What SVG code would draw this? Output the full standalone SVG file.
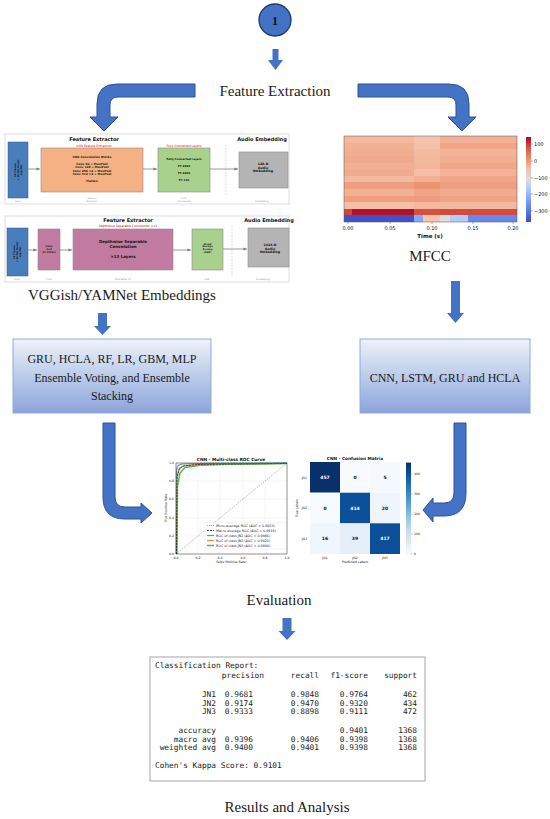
<svg xmlns="http://www.w3.org/2000/svg" width="550" height="819" viewBox="0 0 550 819">
<defs>
<linearGradient id="boxGrad" x1="0" y1="0" x2="0" y2="1"><stop offset="0" stop-color="#eef2fa"/><stop offset="1" stop-color="#8aa5da"/></linearGradient>
<linearGradient id="cw" x1="0" y1="0" x2="0" y2="1">
<stop offset="0" stop-color="#b40426"/><stop offset="0.125" stop-color="#d65244"/><stop offset="0.25" stop-color="#ef8a6c"/><stop offset="0.375" stop-color="#f5bfa5"/><stop offset="0.5" stop-color="#dddcdc"/><stop offset="0.625" stop-color="#a9c6fd"/><stop offset="0.75" stop-color="#7b9ff9"/><stop offset="0.875" stop-color="#5a78e4"/><stop offset="1" stop-color="#3b4cc0"/>
</linearGradient>
<linearGradient id="bl" x1="0" y1="0" x2="0" y2="1">
<stop offset="0" stop-color="#08306b"/><stop offset="0.125" stop-color="#08519c"/><stop offset="0.25" stop-color="#2171b5"/><stop offset="0.375" stop-color="#4292c6"/><stop offset="0.5" stop-color="#6baed6"/><stop offset="0.625" stop-color="#9ecae1"/><stop offset="0.75" stop-color="#c6dbef"/><stop offset="0.875" stop-color="#deebf7"/><stop offset="1" stop-color="#f7fbff"/>
</linearGradient>
<marker id="ga" markerWidth="4" markerHeight="4" refX="3.6" refY="2" orient="auto" markerUnits="userSpaceOnUse"><path d="M0,0.4 L3.6,2 L0,3.6 Z" fill="#808080"/></marker>
</defs>
<style>
.lbl{font-family:"Liberation Serif","Times New Roman",serif;fill:#1a1a1a;text-anchor:middle}
.big{font-size:15px}
.bx{font-size:12px}
.arr{fill:#4472C4;stroke:#2F528F;stroke-width:1}
.sarr{fill:#4472C4}
.s{font-family:"DejaVu Sans",sans-serif;text-anchor:middle;fill:#111}
.b{font-weight:bold}
.red{fill:#c00000}
.gl{fill:#999}
.frame{fill:#fff;stroke:#d4d4d4;stroke-width:0.8}
.blk{stroke:#8c8c8c;stroke-width:0.6}
.conn{stroke:#808080;stroke-width:0.8;fill:none;marker-end:url(#ga)}
.dash{stroke:#bbb;stroke-width:0.6;stroke-dasharray:1.5 1.5}
.grid{stroke:#e6e6e6;stroke-width:0.4}
.mono{font-family:"DejaVu Sans Mono","Liberation Mono",monospace;font-size:7.8px;fill:#222}
.e{text-anchor:end}
</style>
<rect width="550" height="819" fill="#fff"/>

<g id="start">
<circle cx="275" cy="20" r="16" fill="#4472C4" stroke="#1f3864" stroke-width="1.3"/>
<text x="275" y="24.5" font-family="Liberation Serif,serif" font-weight="bold" font-size="12" text-anchor="middle" fill="#111">1</text>
</g>

<g id="connectors">
<path class="sarr" d="M272.5,49 H278.5 V60 H283 L275.5,70 L268,60 H272.5 Z"/>
<path class="arr" d="M195,84 H117 Q97,84 97,104 V117 H90 L104,131 L118,117 H110 V105 Q110,97 118,97 H195 Z"/>
<path class="arr" d="M358,84 H449 Q469,84 469,104 V117 H476 L462,131 L448,117 H456 V105 Q456,97 448,97 H358 Z"/>
<path class="sarr" d="M98,313 H107 V326 H111 L102.5,335 L94,326 H98 Z"/>
<path class="sarr" d="M451,281 H460 V313 H464 L455.5,323 L447,313 H451 Z"/>
<path class="arr" d="M103,423 H115 V497 Q115,507 125,507 H141 V503 L152,513 L141,523 V519 H125 Q103,519 103,497 Z"/>
<path class="arr" d="M466,423 H454 V493 Q454,503 444,503 H433 V498 L423,510 L433,522 V516 H444 Q466,516 466,493 Z"/>
<path class="sarr" d="M282.5,618 H291.5 V631 H295.5 L287,640 L278.5,631 H282.5 Z"/>
</g>

<g id="feature-extraction"><text class="lbl big" x="275" y="96">Feature Extraction</text></g>

<g id="vggish">
<rect class="frame" x="5" y="134" width="284" height="70"/>
<text class="s b" x="94" y="141" font-size="5">Feature Extractor</text>
<text class="s b" x="262" y="141" font-size="5">Audio Embedding</text>
<text class="s red" x="94" y="147" font-size="3">VGG Feature Extraction</text>
<text class="s red" x="184" y="147" font-size="3">Fully Connected Layers</text>
<rect x="8" y="142" width="20" height="56" fill="#4a7ebb" stroke="#2f5597" stroke-width="0.5"/>
<g font-family="DejaVu Sans,sans-serif" font-size="2.4" font-weight="bold" fill="#111" text-anchor="middle">
<text transform="translate(15.5,170) rotate(-90)">96 Frames</text>
<text transform="translate(18.5,170) rotate(-90)">× 64 Mel Bands</text>
<text transform="translate(21.5,170) rotate(-90)">Log-Mel</text>
</g>
<line class="conn" x1="28" y1="169" x2="40" y2="169"/>
<rect class="blk" x="41" y="148" width="102" height="44" fill="#f4b183"/>
<g class="s b" font-size="2.9">
<text x="92" y="158">VGG Convolution Blocks</text>
<text x="92" y="164.5">Conv 64 + MaxPool</text>
<text x="92" y="168">Conv 128 + MaxPool</text>
<text x="92" y="171.5">Conv 256 ×2 + MaxPool</text>
<text x="92" y="175">Conv 512 ×2 + MaxPool</text>
<text x="92" y="182">Flatten</text>
</g>
<line class="conn" x1="143" y1="169" x2="157" y2="169"/>
<rect class="blk" x="158" y="148" width="52" height="44" fill="#a9d18e"/>
<g class="s b" font-size="2.7">
<text x="184" y="159.5">Fully Connected Layers</text>
<text x="184" y="166.5">FC 4096</text>
<text x="184" y="173.5">FC 4096</text>
<text x="184" y="181">FC 128</text>
</g>
<line class="dash" x1="226" y1="145" x2="226" y2="196"/>
<line class="conn" x1="210" y1="169" x2="238" y2="169"/>
<rect class="blk" x="239" y="152" width="49" height="36" fill="#b4b4b4"/>
<g class="s b" font-size="3.2">
<text x="263" y="165">128-D</text>
<text x="263" y="168.5">Audio</text>
<text x="263" y="172">Embedding</text>
</g>
<g class="s gl" font-size="2.4">
<text x="18" y="201.5">Input</text>
<text x="92" y="198.5">Feature</text><text x="92" y="201.5">Extractor</text>
<text x="184" y="198.5">Fully</text><text x="184" y="201.5">Connected</text>
<text x="262" y="201.5">Embedding</text>
</g>
</g>

<g id="yamnet">
<rect class="frame" x="5" y="216" width="284" height="66"/>
<text class="s b" x="128" y="222" font-size="5">Feature Extractor</text>
<text class="s b" x="269" y="222" font-size="5">Audio Embedding</text>
<text class="s red" x="128" y="227" font-size="3">Depthwise Separable Convolution ×13</text>
<rect x="7" y="228" width="21" height="48" fill="#4a7ebb" stroke="#2f5597" stroke-width="0.5"/>
<g font-family="DejaVu Sans,sans-serif" font-size="2.4" font-weight="bold" fill="#111" text-anchor="middle">
<text transform="translate(14.5,252) rotate(-90)">96 Frames</text>
<text transform="translate(17.5,252) rotate(-90)">× 64 Mel Bands</text>
<text transform="translate(20.5,252) rotate(-90)">Log-Mel</text>
</g>
<line class="conn" x1="28" y1="250" x2="37" y2="250"/>
<rect class="blk" x="38" y="229" width="22" height="41" fill="#c27ba0"/>
<g class="s b" font-size="2.5">
<text x="49" y="246.5">Conv</text><text x="49" y="249.5">3×3</text><text x="49" y="252.5">32 Filters</text>
</g>
<line class="conn" x1="60" y1="250" x2="72" y2="250"/>
<rect class="blk" x="73" y="229" width="100" height="41" fill="#c27ba0"/>
<g class="s b" font-size="4">
<text x="123" y="243">Depthwise Separable</text>
<text x="123" y="248">Convolution</text>
<text x="123" y="258">×13 Layers</text>
</g>
<line class="conn" x1="173" y1="250" x2="191" y2="250"/>
<rect class="blk" x="192" y="229" width="31" height="41" fill="#a9d18e"/>
<g class="s b" font-size="2.3">
<text x="207.5" y="244.5">Global</text><text x="207.5" y="247.2">Average</text><text x="207.5" y="249.9">Pooling</text><text x="207.5" y="252.6">(GAP)</text>
</g>
<line class="dash" x1="232" y1="226" x2="232" y2="277"/>
<line class="conn" x1="223" y1="249" x2="247" y2="249"/>
<rect class="blk" x="248" y="228" width="41" height="39" fill="#b4b4b4"/>
<g class="s b" font-size="3.2">
<text x="270" y="246">1024-D</text><text x="270" y="249.5">Audio</text><text x="270" y="253">Embedding</text>
</g>
<g class="s gl" font-size="2.4">
<text x="17" y="279.5">Input</text><text x="49" y="279.5">Conv</text><text x="123" y="279.5">MobileNet V1</text><text x="207" y="279.5">GAP</text><text x="263" y="279.5">Embedding</text>
</g>
</g>

<g id="embeddings-label"><text class="lbl big" x="122" y="300">VGGish/YAMNet Embeddings</text></g>

<g id="mfcc">
<g shape-rendering="crispEdges">
<rect x="344" y="136" width="70" height="6.7" fill="#f4b99e"/><rect x="414" y="136" width="26" height="6.7" fill="#f5c4ad"/><rect x="440" y="136" width="77" height="6.7" fill="#f2b196"/>
<rect x="344" y="142.6" width="70" height="6.7" fill="#f3b194"/><rect x="414" y="142.6" width="26" height="6.7" fill="#f5c0a7"/><rect x="440" y="142.6" width="77" height="6.7" fill="#f0a689"/>
<rect x="344" y="149.2" width="70" height="6.7" fill="#f2ae91"/><rect x="414" y="149.2" width="26" height="6.7" fill="#f4bba1"/><rect x="440" y="149.2" width="77" height="6.7" fill="#f3b397"/>
<rect x="344" y="155.8" width="70" height="6.7" fill="#f1aa8d"/><rect x="414" y="155.8" width="26" height="6.7" fill="#f4b89e"/><rect x="440" y="155.8" width="77" height="6.7" fill="#f2ae91"/>
<rect x="344" y="162.5" width="70" height="6.7" fill="#f2af93"/><rect x="414" y="162.5" width="26" height="6.7" fill="#f3b69b"/><rect x="440" y="162.5" width="77" height="6.7" fill="#f0a68a"/>
<rect x="344" y="169.1" width="70" height="6.7" fill="#f1ab8f"/><rect x="414" y="169.1" width="26" height="6.7" fill="#f5bea5"/><rect x="440" y="169.1" width="77" height="6.7" fill="#f3b398"/>
<rect x="344" y="175.7" width="70" height="6.7" fill="#f4b99f"/><rect x="414" y="175.7" width="26" height="6.7" fill="#f2b093"/><rect x="440" y="175.7" width="77" height="6.7" fill="#f0a588"/>
<rect x="344" y="182.3" width="70" height="6.7" fill="#ef9f81"/><rect x="414" y="182.3" width="26" height="6.7" fill="#ec9374"/><rect x="440" y="182.3" width="77" height="6.7" fill="#ef9e81"/>
<rect x="344" y="188.9" width="70" height="6.7" fill="#f2b095"/><rect x="414" y="188.9" width="26" height="6.7" fill="#f0a487"/><rect x="440" y="188.9" width="77" height="6.7" fill="#f1ab8e"/>
<rect x="344" y="195.5" width="70" height="6.7" fill="#ef9e80"/><rect x="414" y="195.5" width="26" height="6.7" fill="#ee9a7c"/><rect x="440" y="195.5" width="77" height="6.7" fill="#f0a385"/>
<rect x="344" y="202.2" width="70" height="6.7" fill="#f4c1a8"/><rect x="414" y="202.2" width="26" height="6.7" fill="#f3b89d"/><rect x="440" y="202.2" width="77" height="6.7" fill="#f3b99f"/>
<rect x="344" y="208.8" width="8" height="6.7" fill="#cf453c"/><rect x="352" y="208.8" width="62" height="6.7" fill="#b5102a"/><rect x="414" y="208.8" width="26" height="6.7" fill="#d55042"/><rect x="440" y="208.8" width="77" height="6.7" fill="#d24b40"/>
<rect x="344" y="215.4" width="70" height="6.6" fill="#3f53c6"/><rect x="414" y="215.4" width="9" height="6.6" fill="#86a9fc"/><rect x="423" y="215.4" width="17" height="6.6" fill="#f4c4ab"/><rect x="440" y="215.4" width="10" height="6.6" fill="#dcdddd"/><rect x="450" y="215.4" width="18" height="6.6" fill="#b0cbfc"/><rect x="468" y="215.4" width="49" height="6.6" fill="#6788ee"/>
</g>
<rect x="344" y="136" width="173" height="86" fill="none" stroke="#555" stroke-width="0.5"/>
<g stroke="#333" stroke-width="0.4">
<line x1="348" y1="222" x2="348" y2="224"/><line x1="390" y1="222" x2="390" y2="224"/><line x1="432" y1="222" x2="432" y2="224"/><line x1="473" y1="222" x2="473" y2="224"/><line x1="513" y1="222" x2="513" y2="224"/>
</g>
<g class="s" font-size="5">
<text x="348" y="230">0.00</text><text x="390" y="230">0.05</text><text x="432" y="230">0.10</text><text x="473" y="230">0.15</text><text x="513" y="230">0.20</text>
</g>
<text class="s b" x="430" y="238" font-size="5.5">Time (s)</text>
<rect x="526" y="137" width="5" height="85" fill="url(#cw)"/>
<g stroke="#333" stroke-width="0.4">
<line x1="531" y1="144" x2="533" y2="144"/><line x1="531" y1="161" x2="533" y2="161"/><line x1="531" y1="178" x2="533" y2="178"/><line x1="531" y1="194" x2="533" y2="194"/><line x1="531" y1="211" x2="533" y2="211"/>
</g>
<g font-family="DejaVu Sans,sans-serif" font-size="5" fill="#111">
<text x="534" y="145.8">100</text><text x="534" y="162.8">0</text><text x="534" y="179.8">−100</text><text x="534" y="195.8">−200</text><text x="534" y="212.8">−300</text>
</g>
<text class="lbl big" x="430" y="261">MFCC</text>
</g>

<g id="models-left">
<rect x="13" y="339" width="198" height="74" fill="url(#boxGrad)" stroke="#8eaadb" stroke-width="1"/>
<text class="lbl bx" x="112" y="363">GRU, HCLA, RF, LR, GBM, MLP</text>
<text class="lbl bx" x="112" y="382">Ensemble Voting, and Ensemble</text>
<text class="lbl bx" x="112" y="400">Stacking</text>
</g>

<g id="models-right">
<rect x="360" y="339" width="170" height="74" fill="url(#boxGrad)" stroke="#8eaadb" stroke-width="1"/>
<text class="lbl bx" x="445" y="382">CNN, LSTM, GRU and HCLA</text>
</g>

<g id="roc">
<rect x="176" y="463" width="111" height="91" fill="#fff"/>
<g class="grid">
<line x1="198" y1="463" x2="198" y2="554"/><line x1="220" y1="463" x2="220" y2="554"/><line x1="243" y1="463" x2="243" y2="554"/><line x1="265" y1="463" x2="265" y2="554"/>
<line x1="176" y1="481" x2="287" y2="481"/><line x1="176" y1="499" x2="287" y2="499"/><line x1="176" y1="518" x2="287" y2="518"/><line x1="176" y1="536" x2="287" y2="536"/>
</g>
<line x1="176" y1="554" x2="287" y2="463" stroke="#777" stroke-width="0.5" stroke-dasharray="1.5 1"/>
<path d="M176.3,554 L176.5,470 L178,465.5 L182,464 L200,463.5 L287,463.2" fill="none" stroke="#3d9be0" stroke-width="1.2"/>
<path d="M176.5,554 L177,478 L179,469 L183,466 L195,464.6 L287,463.5" fill="none" stroke="#f5883a" stroke-width="1.2"/>
<path d="M177,554 L177.5,486 L180,473 L185,467.5 L200,465.3 L230,464.2 L287,463.5" fill="none" stroke="#4cbf4c" stroke-width="1.5"/>
<path d="M176.5,554 L177,476 L179.5,468 L184,465.5 L200,464.2 L287,463.3" fill="none" stroke="#ff5fc8" stroke-width="1" stroke-dasharray="1 1"/>
<path d="M176.5,554 L177,477 L179.5,468.5 L184,465.8 L200,464.4 L287,463.4" fill="none" stroke="#111" stroke-width="0.7" stroke-dasharray="2 1"/>
<line x1="200" y1="463.3" x2="287" y2="463.3" stroke="#3aa83a" stroke-width="1" stroke-dasharray="2 1"/>
<rect x="176" y="463" width="111" height="91" fill="none" stroke="#222" stroke-width="0.5"/>
<rect x="205" y="522.5" width="81" height="26.5" fill="#fff" fill-opacity="0.8" stroke="#ddd" stroke-width="0.3"/>
<line x1="207" y1="525.5" x2="214" y2="525.5" stroke="#ff5fc8" stroke-width="1" stroke-dasharray="1 1"/>
<line x1="207" y1="530.5" x2="214" y2="530.5" stroke="#111" stroke-width="0.8" stroke-dasharray="2 1"/>
<line x1="207" y1="535.5" x2="214" y2="535.5" stroke="#3d9be0" stroke-width="1.2"/>
<line x1="207" y1="540.5" x2="214" y2="540.5" stroke="#f5883a" stroke-width="1.2"/>
<line x1="207" y1="545.5" x2="214" y2="545.5" stroke="#4cbf4c" stroke-width="1.5"/>
<g font-family="DejaVu Sans,sans-serif" font-size="3.3" fill="#222">
<text x="216" y="526.7">Micro-average ROC (AUC = 0.9923)</text>
<text x="216" y="531.7">Macro-average ROC (AUC = 0.9919)</text>
<text x="216" y="536.7">ROC of class JN1 (AUC = 0.9986)</text>
<text x="216" y="541.7">ROC of class JN2 (AUC = 0.9920)</text>
<text x="216" y="546.7">ROC of class JN3 (AUC = 0.9844)</text>
</g>
<g font-family="DejaVu Sans,sans-serif" font-size="3.2" fill="#222" text-anchor="end">
<text x="174" y="464.2">1.0</text><text x="174" y="482.2">0.8</text><text x="174" y="500.2">0.6</text><text x="174" y="519.2">0.4</text><text x="174" y="537.2">0.2</text><text x="174" y="555.2">0.0</text>
</g>
<g class="s" font-size="3.2" fill="#222">
<text x="176" y="558.5">0.0</text><text x="198" y="558.5">0.2</text><text x="220" y="558.5">0.4</text><text x="243" y="558.5">0.6</text><text x="265" y="558.5">0.8</text><text x="287" y="558.5">1.0</text>
<text x="231" y="563">False Positive Rate</text>
<text transform="translate(167,508) rotate(-90)">True Positive Rate</text>
</g>
<text class="s b" x="231" y="461" font-size="4.3">CNN - Multi-class ROC Curve</text>
</g>

<g id="confusion-matrix">
<rect x="310" y="462" width="30" height="30.7" fill="#08306b"/>
<rect x="340" y="462" width="30" height="30.7" fill="#f7fbff"/>
<rect x="370" y="462" width="30" height="30.7" fill="#f5f9fe"/>
<rect x="310" y="492.7" width="30" height="30.7" fill="#f7fbff"/>
<rect x="340" y="492.7" width="30" height="30.7" fill="#0d509a"/>
<rect x="370" y="492.7" width="30" height="30.7" fill="#eef5fc"/>
<rect x="310" y="523.3" width="30" height="30.7" fill="#f0f6fd"/>
<rect x="340" y="523.3" width="30" height="30.7" fill="#e4eff9"/>
<rect x="370" y="523.3" width="30" height="30.7" fill="#0c4e98"/>
<g class="s b" font-size="4.5">
<text x="325" y="479" fill="#fff">457</text><text x="355" y="479">0</text><text x="385" y="479">5</text>
<text x="325" y="509.7">0</text><text x="355" y="509.7" fill="#fff">414</text><text x="385" y="509.7">20</text>
<text x="325" y="540.3">16</text><text x="355" y="540.3">39</text><text x="385" y="540.3" fill="#fff">417</text>
</g>
<g font-family="DejaVu Sans,sans-serif" font-size="3.2" fill="#222" text-anchor="end">
<text x="307" y="478.5">JN1</text><text x="307" y="509">JN2</text><text x="307" y="539.5">JN3</text>
</g>
<g class="s" font-size="3.2" fill="#222">
<text x="325" y="558.5">JN1</text><text x="355" y="558.5">JN2</text><text x="385" y="558.5">JN3</text>
<text x="355" y="563">Predicted Labels</text>
<text transform="translate(298,508) rotate(-90)">True Labels</text>
</g>
<text class="s b" x="355" y="460" font-size="4.3">CNN - Confusion Matrix</text>
<rect x="406" y="462.6" width="5" height="91.4" fill="url(#bl)"/>
<g stroke="#333" stroke-width="0.3">
<line x1="411" y1="474" x2="412.5" y2="474"/><line x1="411" y1="494" x2="412.5" y2="494"/><line x1="411" y1="514" x2="412.5" y2="514"/><line x1="411" y1="534" x2="412.5" y2="534"/><line x1="411" y1="554" x2="412.5" y2="554"/>
</g>
<g font-family="DejaVu Sans,sans-serif" font-size="3.2" fill="#222">
<text x="414" y="475.2">400</text><text x="414" y="495.2">300</text><text x="414" y="515.2">200</text><text x="414" y="535.2">100</text><text x="414" y="555.2">0</text>
</g>
</g>

<g id="evaluation-label"><text class="lbl big" x="279" y="605">Evaluation</text></g>

<g id="report">
<rect x="150" y="657" width="275" height="124" fill="#fff" stroke="#a6a6a6" stroke-width="1"/>
<text class="mono" x="155" y="668">Classification Report:</text>
<text class="mono e" x="264" y="678">precision</text><text class="mono e" x="319" y="678">recall</text><text class="mono e" x="368" y="678">f1-score</text><text class="mono e" x="417" y="678">support</text>
<text class="mono e" x="216" y="697">JN1</text><text class="mono e" x="253" y="697">0.9681</text><text class="mono e" x="319" y="697">0.9848</text><text class="mono e" x="368" y="697">0.9764</text><text class="mono e" x="417" y="697">462</text>
<text class="mono e" x="216" y="705.5">JN2</text><text class="mono e" x="253" y="705.5">0.9174</text><text class="mono e" x="319" y="705.5">0.9470</text><text class="mono e" x="368" y="705.5">0.9320</text><text class="mono e" x="417" y="705.5">434</text>
<text class="mono e" x="216" y="714">JN3</text><text class="mono e" x="253" y="714">0.9333</text><text class="mono e" x="319" y="714">0.8898</text><text class="mono e" x="368" y="714">0.9111</text><text class="mono e" x="417" y="714">472</text>
<text class="mono e" x="216" y="733">accuracy</text><text class="mono e" x="368" y="733">0.9401</text><text class="mono e" x="417" y="733">1368</text>
<text class="mono e" x="216" y="741.5">macro avg</text><text class="mono e" x="253" y="741.5">0.9396</text><text class="mono e" x="319" y="741.5">0.9406</text><text class="mono e" x="368" y="741.5">0.9398</text><text class="mono e" x="417" y="741.5">1368</text>
<text class="mono e" x="216" y="750">weighted avg</text><text class="mono e" x="253" y="750">0.9400</text><text class="mono e" x="319" y="750">0.9401</text><text class="mono e" x="368" y="750">0.9398</text><text class="mono e" x="417" y="750">1368</text>
<text class="mono" x="155" y="768">Cohen's Kappa Score: 0.9101</text>
</g>

<g id="results-label"><text class="lbl big" x="287" y="812">Results and Analysis</text></g>
</svg>
